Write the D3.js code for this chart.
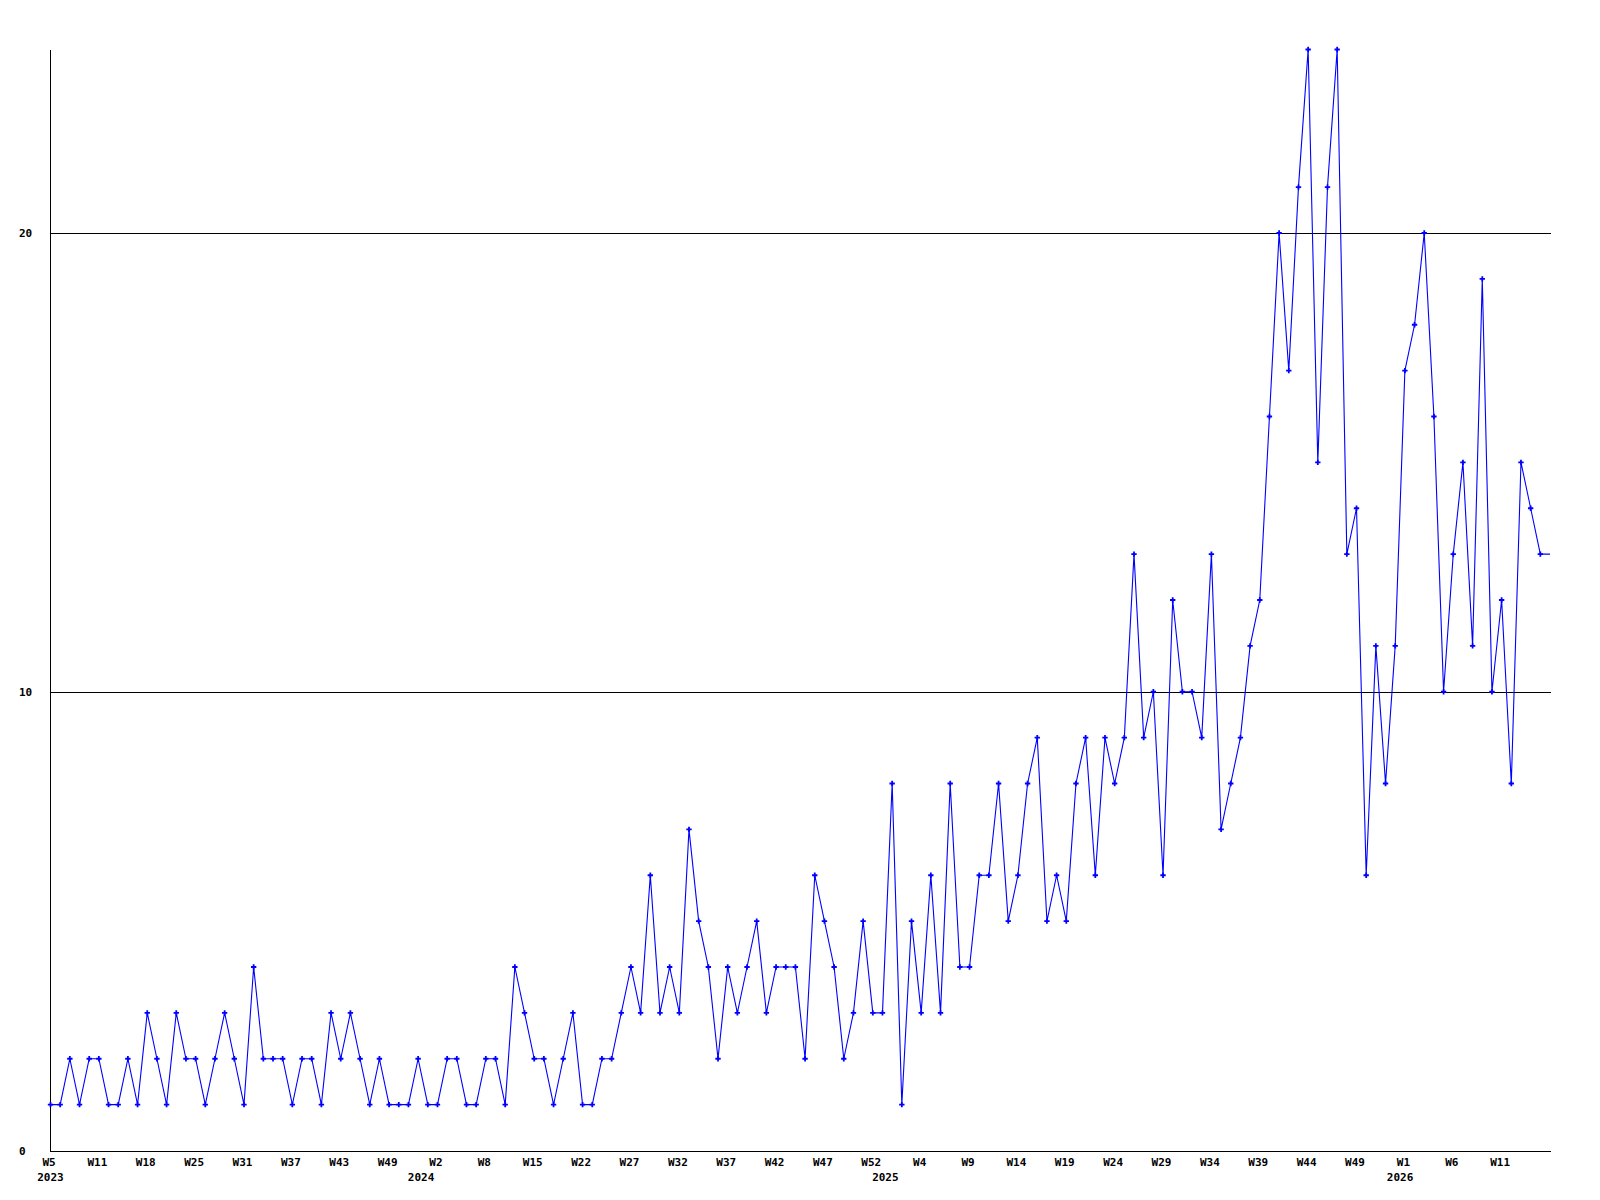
<!DOCTYPE html>
<html>
<head>
<meta charset="utf-8">
<script src="https://cdn.jsdelivr.net/npm/d3@7"></script>
<style>
  html, body { margin: 0; padding: 0; background: #fff; }
  svg { display: block; }
  text { font-family: "DejaVu Sans Mono", "Liberation Mono", monospace; font-weight: bold; font-size: 11px; fill: #000; }
</style>
</head>
<body>
<svg id="chart" width="1600" height="1200"></svg>
<script>
// ---- data ----
const values = [
  1,1,2,1,2,2,1,1,2,1,3,2,1,3,2,2,1,2,3,2,1,4,2,2,2,1,2,2,1,3,2,3,2,1,2,1,1,1,2,1,1,2,2,1,1,2,2,1,4,3,2,
  2,1,2,3,1,1,2,2,3,4,3,6,3,4,3,7,5,4,2,4,3,4,5,3,4,4,4,2,6,5,4,2,3,5,3,3,8,1,5,3,6,3,
  8,4,4,6,6,8,5,6,8,9,5,6,5,8,9,6,9,8,9,13,9,10,6,12,10,10,9,13,7,
  8,9,11,12,16,20,17,21,24,15,21,24,13,14,6,11,8,11,
  17,18,20,16,10,13,15,11,19,10,12,8,15,14,13,13
];
const weekLabels = ["W5","W11","W18","W25","W31","W37","W43","W49","W2","W8","W15","W22","W27","W32","W37","W42","W47","W52","W4","W9","W14","W19","W24","W29","W34","W39","W44","W49","W1","W6","W11"];
const weekLabelIdx = weekLabels.map((_, i) => i * 5);
const yearLabels = ["2023","2024","2025","2026"];
const yearLabelIdx = [0, 38.3, 86.3, 139.5];
const yTicks = [0, 10, 20];
const yGrid = [10, 20];

// ---- layout ----
const svg = d3.select("#chart");
const x = d3.scaleLinear().domain([0, values.length - 1]).range([50.5, 1550]);
const y = d3.scaleLinear().domain([0, 24]).range([1150.5, 49.5]);
const xLeft = 50.5, xRight = 1551;

// gridlines
svg.append("g").selectAll("line").data(yGrid).join("line")
  .attr("x1", xLeft).attr("x2", xRight)
  .attr("y1", d => Math.round(y(d)) + 0.5).attr("y2", d => Math.round(y(d)) + 0.5)
  .attr("stroke", "#000").attr("stroke-width", 1).attr("shape-rendering", "crispEdges");

// axes lines
svg.append("line").attr("x1", xLeft).attr("x2", xRight)
  .attr("y1", Math.round(y(0)) + 0.5).attr("y2", Math.round(y(0)) + 0.5)
  .attr("stroke", "#000").attr("shape-rendering", "crispEdges");
svg.append("line").attr("x1", xLeft).attr("x2", xLeft)
  .attr("y1", y(24)).attr("y2", Math.round(y(0)) + 1)
  .attr("stroke", "#000").attr("shape-rendering", "crispEdges");

// y labels
svg.append("g").selectAll("text").data(yTicks).join("text")
  .attr("x", 19).attr("y", d => y(d) + 4)
  .attr("text-anchor", "start")
  .text(d => d);

// x week labels via d3 axis
const xAxis = d3.axisBottom(x)
  .tickValues(weekLabelIdx)
  .tickFormat((d, i) => weekLabels[i])
  .tickSize(0).tickPadding(0);
const gx = svg.append("g").attr("transform", "translate(-2,1158)").call(xAxis);
gx.select(".domain").remove();
gx.selectAll("text").attr("dy", null).attr("y", 8)
  .style("font-family", "'DejaVu Sans Mono', monospace").style("font-weight", "bold").style("font-size", "11px");

// year labels
svg.append("g").selectAll("text").data(yearLabels).join("text")
  .attr("x", (d, i) => x(yearLabelIdx[i]))
  .attr("y", 1181)
  .attr("text-anchor", "middle")
  .text(d => d);

// clip
svg.append("defs").append("clipPath").attr("id", "plotclip")
  .append("rect").attr("x", 0).attr("y", 0).attr("width", xRight).attr("height", 1200);

const plot = svg.append("g").attr("clip-path", "url(#plotclip)");

// line
const line = d3.line().x((d, i) => x(i)).y(d => y(d));
plot.append("path").datum(values)
  .attr("d", line)
  .attr("fill", "none")
  .attr("stroke", "#0000ff")
  .attr("stroke-width", 1.1);

// markers
const sym = d3.symbol().type(d3.symbolCross).size(16);
plot.append("g").selectAll("path").data(values.slice(0, values.length - 1)).join("path")
  .attr("transform", (d, i) => `translate(${x(i)},${y(d)})`)
  .attr("d", sym)
  .attr("fill", "#0000ff");
</script>
</body>
</html>
